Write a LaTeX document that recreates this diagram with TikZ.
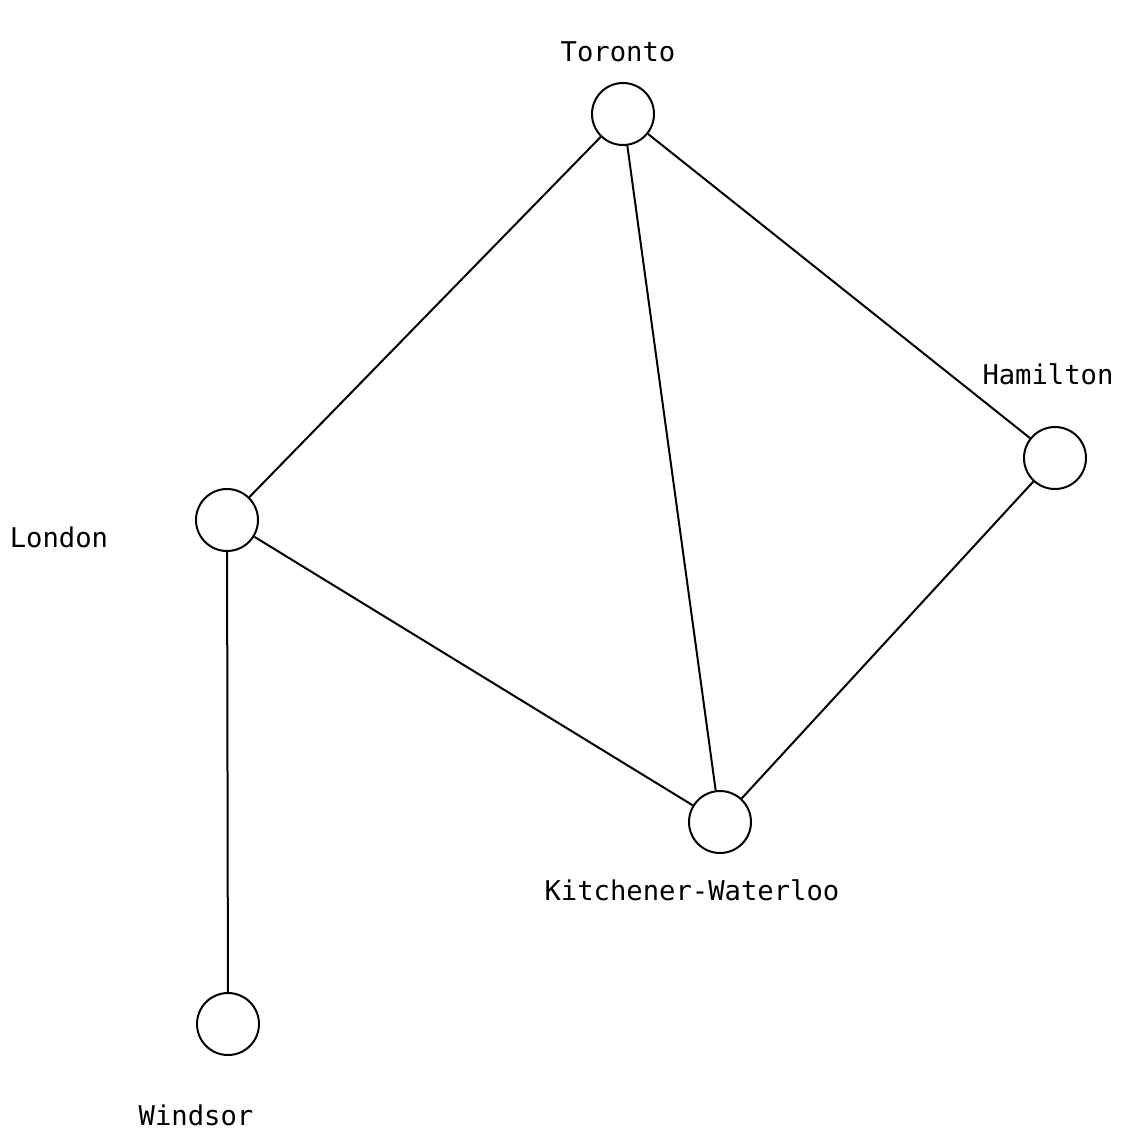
\documentclass[tikz,border=0pt]{standalone}
\usepackage{fontspec}
\setmonofont{DejaVu Sans Mono}
\usetikzlibrary{positioning}

\begin{document}
\begin{tikzpicture}[
  x=0.5pt, y=-0.5pt,
  town/.style={draw, circle, line width=1pt, minimum size=31pt, inner sep=0pt},
  townlabel/.style={font=\ttfamily\fontsize{13.6}{16}\selectfont, inner sep=0pt},
  link/.style={line width=1pt}
]
\useasboundingbox (0,0) rectangle (1122,1132);
% towns
\node[town] (toronto) at (623,114) {};
\node[town] (hamilton) at (1055,458) {};
\node[town] (london) at (227,520) {};
\node[town] (kw) at (720,822) {};
\node[town] (windsor) at (228,1024) {};
% names
\node[townlabel] (torontoname) at (618,52) {Toronto};
\node[townlabel] (hamiltonname) at (1048,374) {Hamilton};
\node[townlabel] (londonname) at (59,537) {London};
\node[townlabel] (kwname) at (692,890) {Kitchener-Waterloo};
\node[townlabel] (windsorname) at (196,1115) {Windsor};
% links
\draw[link] (toronto) -- (london);
\draw[link] (toronto) -- (hamilton);
\draw[link] (toronto) -- (kw);
\draw[link] (london) -- (kw);
\draw[link] (hamilton) -- (kw);
\draw[link] (london) -- (windsor);
\end{tikzpicture}
\end{document}
